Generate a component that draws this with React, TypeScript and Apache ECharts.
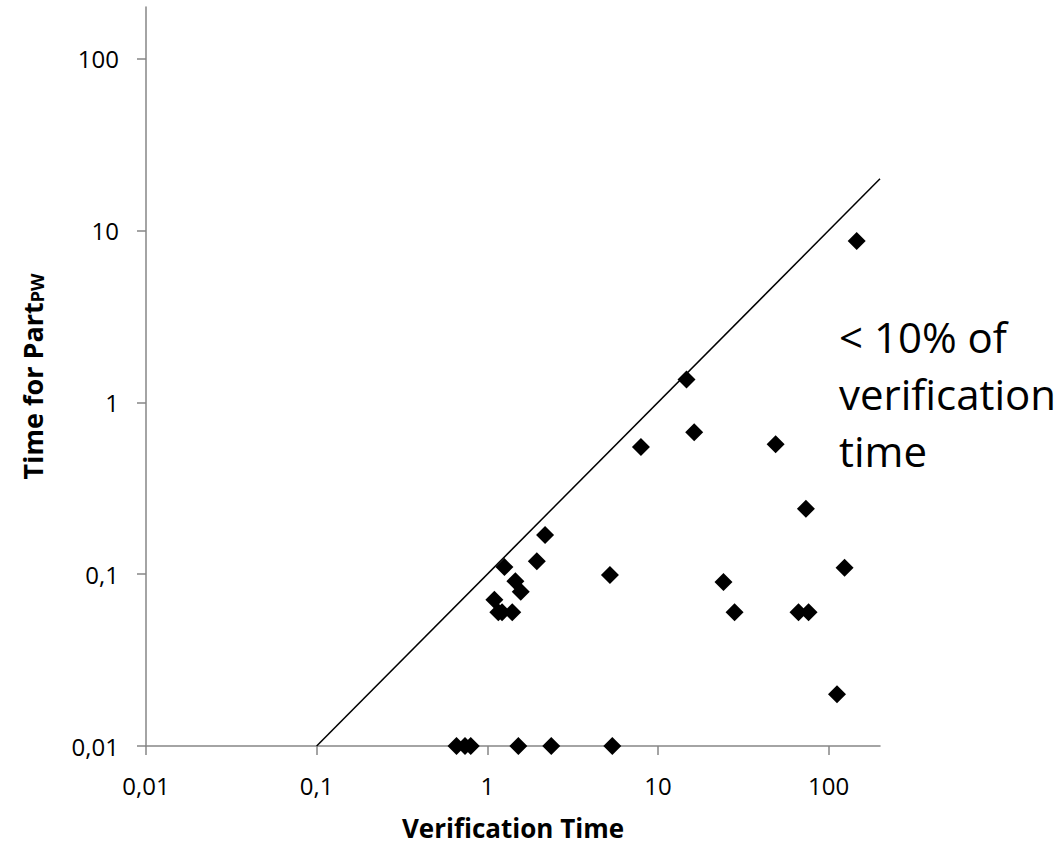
import React, { useEffect, useRef } from "react";
import * as echarts from "echarts";

const tickValues = [0.01, 0.1, 1, 10, 100];
const tickLabels = ["0,01", "0,1", "1", "10", "100"];

const verificationTime = [
  146, 14.7, 16.3, 7.95, 48.9, 73.6, 2.18, 1.95, 1.26, 1.46, 1.57, 1.1, 1.16, 1.22, 1.4,
  5.23, 24.2, 28.1, 66.6, 76.3, 124, 112, 0.66, 0.74, 0.8, 1.52, 2.37, 5.4,
];
const partTime = [
  8.7, 1.36, 0.67, 0.55, 0.57, 0.24, 0.169, 0.119, 0.11, 0.091, 0.079, 0.071, 0.06, 0.06, 0.06,
  0.099, 0.09, 0.06, 0.06, 0.06, 0.109, 0.02, 0.01, 0.01, 0.01, 0.01, 0.01, 0.01,
];
const tenPercentLineX = [0.1, 200];
const tenPercentLineY = [0.01, 20];

const FONT = "'Open Sans', sans-serif";

function fmt(v: number): string {
  for (let i = 0; i < tickValues.length; i++) {
    if (Math.abs(Math.log10(v) - Math.log10(tickValues[i])) < 1e-6) return tickLabels[i];
  }
  return "";
}

export default function App() {
  const ref = useRef<HTMLDivElement>(null);
  useEffect(() => {
    document.body.style.margin = "0";
    if (!ref.current) return;
    const chart = echarts.init(ref.current, undefined, { renderer: "svg" });
    const axisCommon = {
      type: "log" as const,
      logBase: 10,
      min: 0.01,
      max: 200,
      splitLine: { show: false },
      axisLine: { show: true, lineStyle: { color: "#868686", width: 1.5 } },
      axisTick: {
        show: true,
        length: 9,
        customValues: tickValues,
        lineStyle: { color: "#868686", width: 1.5 },
      },
      axisLabel: {
        customValues: tickValues,
        formatter: (v: number) => fmt(v),
        fontFamily: FONT,
        fontSize: 24,
        color: "#000",
        margin: 27,
      },
    };
    chart.setOption({
      animation: false,
      grid: { left: 146, right: 181, top: 7, bottom: 98 },
      xAxis: {
        ...axisCommon,
        name: "Verification Time",
        nameLocation: "middle",
        nameGap: 69,
        nameTextStyle: { fontFamily: FONT, fontSize: 26, fontWeight: "bold", color: "#000" },
      },
      yAxis: {
        ...axisCommon,
        name: "{a|Time for Part}{b|PW}",
        nameLocation: "middle",
        nameGap: 100,
        nameTextStyle: {
          rich: {
            a: { fontFamily: FONT, fontSize: 27, fontWeight: "bold", color: "#000" },
            b: { fontFamily: FONT, fontSize: 18, fontWeight: "bold", color: "#000", verticalAlign: "bottom" },
          },
        },
      },
      series: [
        {
          type: "line",
          data: tenPercentLineX.map((x, i) => [x, tenPercentLineY[i]]),
          showSymbol: false,
          symbol: "none",
          lineStyle: { color: "#000", width: 1.5 },
          z: 2,
        },
        {
          type: "scatter",
          symbol: "diamond",
          symbolSize: 18,
          itemStyle: { color: "#000", opacity: 1 },
          data: verificationTime.map((x, i) => [x, partTime[i]]),
          z: 3,
        },
      ],
      graphic: [
        {
          type: "text",
          left: 839,
          top: 308,
          style: {
            text: "< 10% of\nverification\ntime",
            fontFamily: FONT,
            fontSize: 42,
            lineHeight: 57,
            fill: "#000",
          },
        },
      ],
    });
    return () => chart.dispose();
  }, []);
  return <div ref={ref} style={{ width: 1061, height: 846 }} />;
}
